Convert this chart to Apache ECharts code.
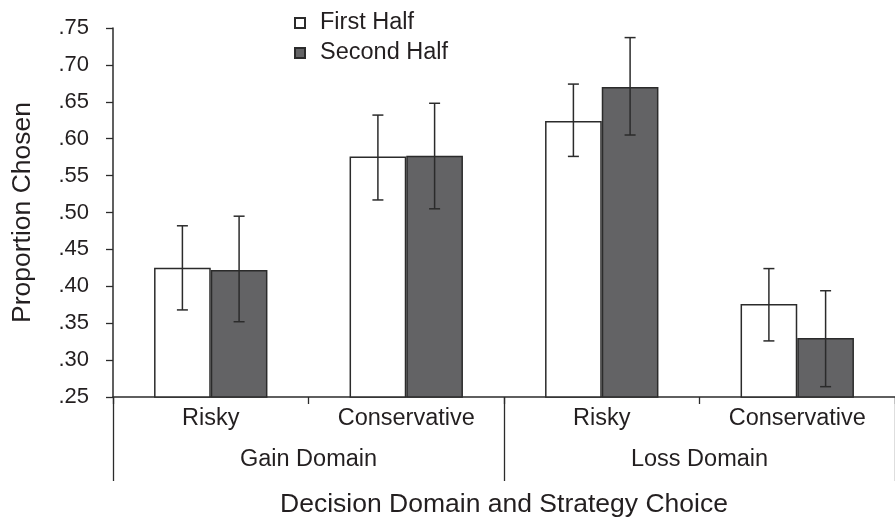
<!DOCTYPE html>
<html>
<head>
<meta charset="utf-8">
<script src="https://cdn.jsdelivr.net/npm/echarts@6/dist/echarts.min.js"></script>
<style>
html,body{margin:0;padding:0;background:#fff;}
#chart{width:895px;height:523px;}
</style>
</head>
<body>
<div id="chart"></div>
<script>
const categories = ['Risky', 'Conservative', 'Risky', 'Conservative'];
const domains = ['Gain Domain', 'Loss Domain'];
const seriesNames = ['First Half', 'Second Half'];
const firstHalf = [0.425, 0.576, 0.624, 0.376];
const firstLow  = [0.368, 0.517, 0.576, 0.326];
const firstHigh = [0.482, 0.632, 0.674, 0.424];
const secondHalf = [0.422, 0.577, 0.670, 0.330];
const secondLow  = [0.352, 0.505, 0.605, 0.264];
const secondHigh = [0.495, 0.648, 0.737, 0.394];
const yMin = 0.25, yMax = 0.75, yStep = 0.05;

const FONT = 'Liberation Sans, Arial, sans-serif';
const TXT = '#231f20';
const LINE = '#2b2b2b';

function errSeries(name, low, high, offsetFrac) {
  return {
    type: 'custom',
    name: name + ' error',
    xAxisIndex: 0,
    z: 10,
    data: low.map((l, i) => [i, l, high[i]]),
    renderItem: function (params, api) {
      const band = api.size([1, 0])[0];
      const cx = api.coord([api.value(0), api.value(1)])[0] + offsetFrac * band;
      const yl = api.coord([api.value(0), api.value(1)])[1];
      const yh = api.coord([api.value(0), api.value(2)])[1];
      const cap = 5.5;
      const st = { stroke: LINE, lineWidth: 1.5 };
      return {
        type: 'group',
        children: [
          { type: 'line', shape: { x1: cx, y1: yl, x2: cx, y2: yh }, style: st },
          { type: 'line', shape: { x1: cx - cap, y1: yl, x2: cx + cap, y2: yl }, style: st },
          { type: 'line', shape: { x1: cx - cap, y1: yh, x2: cx + cap, y2: yh }, style: st }
        ]
      };
    }
  };
}

const chart = echarts.init(document.getElementById('chart'));
chart.setOption({
  animation: false,
  backgroundColor: '#fff',
  textStyle: { fontFamily: FONT, color: TXT },
  grid: { left: 113, top: 28, width: 794, height: 375.5, containLabel: false },
  legend: {
    data: seriesNames,
    orient: 'vertical',
    left: 294,
    top: 11,
    padding: 0,
    itemWidth: 10,
    itemHeight: 10,
    itemGap: 6,
    icon: 'rect',
    textStyle: { fontFamily: FONT, fontSize: 23.5, color: TXT, lineHeight: 24, padding: [0, 0, 0, 10] }
  },
  xAxis: [
    {
      type: 'category',
      data: categories,
      position: 'bottom',
      axisLine: { show: true, lineStyle: { color: LINE, width: 1.5 } },
      axisTick: { show: true, length: 7, lineStyle: { color: LINE, width: 1.3 } },
      axisLabel: { fontFamily: FONT, fontSize: 23.5, color: TXT, margin: 10 },
      name: 'Decision Domain and Strategy Choice',
      nameLocation: 'middle',
      nameGap: 94,
      nameTextStyle: { fontFamily: FONT, fontSize: 26.5, color: TXT }
    },
    {
      type: 'category',
      data: domains,
      position: 'bottom',
      axisLine: { show: false },
      axisTick: { show: true, length: 84, lineStyle: { color: LINE, width: 1.3 } },
      axisLabel: { fontFamily: FONT, fontSize: 23.5, color: TXT, margin: 51 }
    }
  ],
  yAxis: {
    type: 'value',
    min: yMin,
    max: yMax,
    interval: yStep,
    axisLine: { show: true, lineStyle: { color: LINE, width: 1.5 } },
    axisTick: { show: true, length: 7, lineStyle: { color: LINE, width: 1.3 } },
    splitLine: { show: false },
    axisLabel: {
      fontFamily: FONT, fontSize: 22, color: TXT, margin: 24,
      formatter: v => v.toFixed(2).replace(/^0/, '')
    },
    name: 'Proportion Chosen',
    nameLocation: 'middle',
    nameRotate: 90,
    nameGap: 77,
    nameTextStyle: { fontFamily: FONT, fontSize: 26.5, color: TXT }
  },
  series: [
    {
      type: 'bar',
      name: seriesNames[0],
      xAxisIndex: 0,
      data: firstHalf,
      barGap: '0%',
      barCategoryGap: '42%',
      itemStyle: { color: '#ffffff', borderColor: LINE, borderWidth: 1.5 }
    },
    {
      type: 'bar',
      name: seriesNames[1],
      xAxisIndex: 0,
      data: secondHalf,
      barGap: '0%',
      barCategoryGap: '42%',
      itemStyle: { color: '#636365', borderColor: LINE, borderWidth: 1.5 }
    },
    errSeries(seriesNames[0], firstLow, firstHigh, -0.145),
    errSeries(seriesNames[1], secondLow, secondHigh, 0.145)
  ]
});
</script>
</body>
</html>
